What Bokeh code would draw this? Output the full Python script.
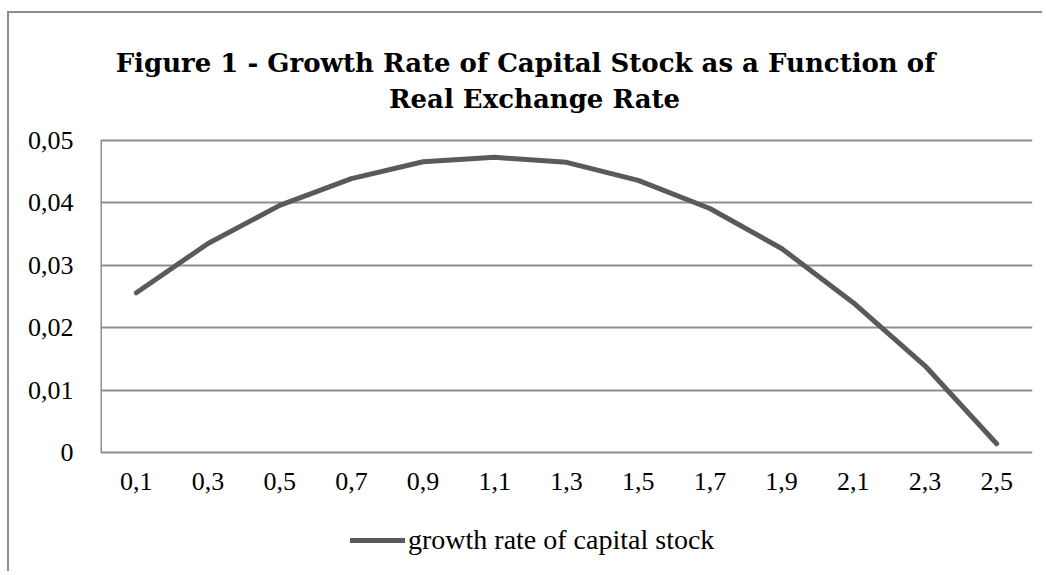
from bokeh.plotting import figure
from bokeh.models import FactorRange, Range1d, FixedTicker, CustomJSTickFormatter, Legend, LegendItem
from bokeh.core.properties import value
from bokeh.embed import file_html
from bokeh.resources import INLINE

title_lines = ["Figure 1 - Growth Rate of Capital Stock as a Function of", "Real Exchange Rate"]
x_labels = ["0,1", "0,3", "0,5", "0,7", "0,9", "1,1", "1,3", "1,5", "1,7", "1,9", "2,1", "2,3", "2,5"]
growth = [0.0256, 0.0335, 0.0396, 0.0439, 0.0466, 0.0473, 0.0465, 0.0436, 0.0391, 0.0327, 0.0240, 0.0139, 0.0014]
y_ticks = [0, 0.01, 0.02, 0.03, 0.04, 0.05]
series_name = "growth rate of capital stock"

GRAY = "#8f8f8f"
LINE = "#5a5a5a"
SERIF = "Liberation Serif"

# frame spans whole canvas height: 0.05 sits 127 px below the top, 0 sits 312 px below 0.05,
# and 121 px more below 0 hold the category labels and the legend
px = 0.05 / 312
y_max = 0.05 + 127 * px
y_min = -121 * px

p = figure(width=1035, height=560, output_backend="svg", toolbar_location=None, title=None,
           x_range=FactorRange(factors=x_labels, range_padding=0),
           y_range=Range1d(y_min, y_max), x_axis_location=None,
           min_border_left=91, min_border_right=12, min_border_top=0, min_border_bottom=0,
           styles={"margin-left": "7px", "margin-top": "11px",
                   "border-top": "2px solid #8c8c8c", "border-left": "2px solid #8c8c8c"})
p.outline_line_color = None
p.background_fill_color = "white"
p.border_fill_color = "white"

p.xgrid.grid_line_color = None
p.ygrid.grid_line_color = GRAY
p.ygrid.grid_line_width = 2

# vertical axis line (from 0 to top tick only)
p.segment(x0=[0], y0=[0], x1=[0], y1=[y_ticks[-1]], line_color=GRAY, line_width=3)

r = p.line(x_labels, growth, line_color=LINE, line_width=5, line_cap="round", line_join="round")

# category labels under the zero line
p.text(x=x_labels, y=[0] * len(x_labels), text=x_labels, y_offset=29,
       text_font=value(SERIF), text_font_size="26px", text_color="black",
       text_align="center", text_baseline="middle")

# two-line title, placed above the top tick, centred on the chart box
mid = x_labels[len(x_labels) // 2]
p.text(x=[mid, mid], y=[y_ticks[-1], y_ticks[-1]], text=title_lines,
       x_offset=[-41, -32], y_offset=[-78, -42],
       text_font=value("DejaVu Serif"), text_font_style="bold", text_font_size="26px",
       text_color="black", text_align="center", text_baseline="alphabetic")

ax = p.yaxis[0]
ax.axis_line_color = None
ax.major_tick_line_color = None
ax.minor_tick_line_color = None
ax.major_label_text_font = SERIF
ax.major_label_text_font_size = "26px"
ax.major_label_text_color = "black"
ax.ticker = FixedTicker(ticks=y_ticks)
ax.formatter = CustomJSTickFormatter(code='return tick == 0 ? "0" : tick.toFixed(2).replace(".", ",");')
ax.major_label_standoff = 21

legend = Legend(items=[LegendItem(label=series_name, renderers=[r])],
                location=(250, 17), orientation="horizontal",
                glyph_width=55, glyph_height=20, label_standoff=3, padding=0, margin=0,
                border_line_color=None, background_fill_alpha=0,
                label_text_font=SERIF, label_text_font_size="28px", label_text_color="black")
p.add_layout(legend)

open("out.html", "w").write(file_html(p, INLINE))
